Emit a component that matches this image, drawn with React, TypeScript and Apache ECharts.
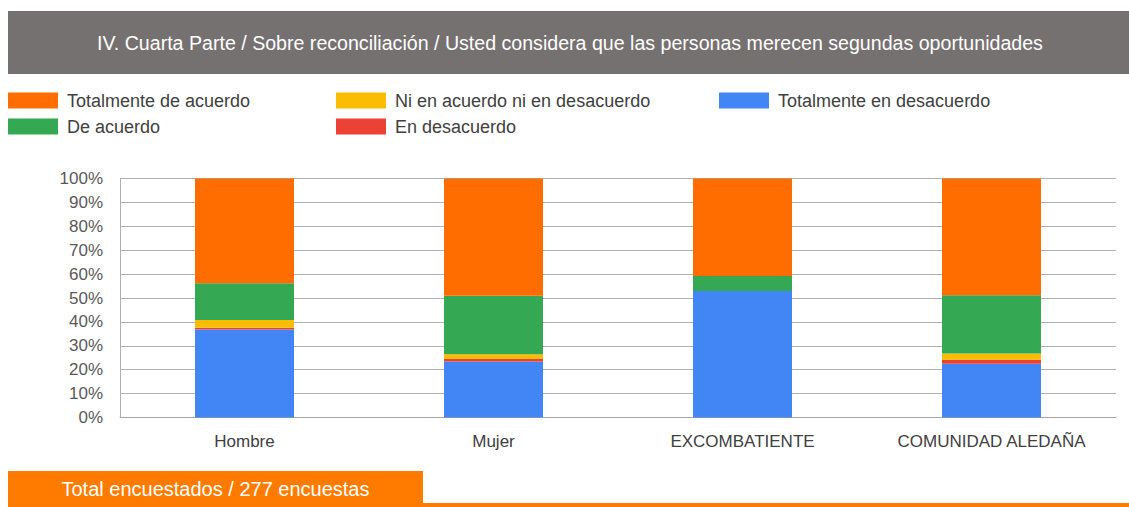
import React, { useEffect, useRef } from "react";
import * as echarts from "echarts";

const categories = ["Hombre", "Mujer", "EXCOMBATIENTE", "COMUNIDAD ALEDAÑA"];
const totalmenteEnDesacuerdo = [36.8, 23.4, 52.9, 22.5];
const enDesacuerdo = [0.8, 1.1, 0, 1.7];
const niNi = [3.2, 2.0, 0, 2.6];
const deAcuerdo = [15.4, 24.4, 6.3, 24.4];
const totalmenteDeAcuerdo = [43.8, 49.1, 40.8, 48.8];
const yTicks = [0, 10, 20, 30, 40, 50, 60, 70, 80, 90, 100];

const titleText =
  "IV. Cuarta Parte / Sobre reconciliación / Usted considera que las personas merecen segundas oportunidades";
const footerText = "Total encuestados / 277 encuestas";

const FONT = "'Liberation Sans', Arial, sans-serif";

export default function App() {
  const ref = useRef<HTMLDivElement>(null);
  useEffect(() => {
    if (!ref.current) return;
    const chart = echarts.init(ref.current, undefined, { renderer: "svg" });
    const legendText = { fontFamily: FONT, fontSize: 18, color: "#404040", padding: [0, 0, 0, 4] };
    const legendBase = {
      orient: "vertical" as const,
      itemWidth: 50,
      itemHeight: 16,
      itemGap: 8,
      padding: 0,
      icon: "rect",
      textStyle: legendText,
      selectedMode: false,
    };
    const mk = (name: string, data: number[], color: string) => ({
      name,
      type: "bar",
      stack: "total",
      data,
      barWidth: 99,
      itemStyle: { color },
    });
    chart.setOption({
      animation: false,
      textStyle: { fontFamily: FONT },
      graphic: [
        { type: "rect", shape: { x: 8, y: 11, width: 1121, height: 63 }, style: { fill: "#767171" } },
        {
          type: "text",
          x: 570,
          y: 43,
          style: {
            text: titleText,
            fill: "#ffffff",
            fontFamily: FONT,
            fontSize: 19.6,
            align: "center",
            verticalAlign: "middle",
          },
        },
        { type: "rect", shape: { x: 8, y: 471, width: 415, height: 36 }, style: { fill: "#ff7b00" } },
        { type: "rect", shape: { x: 8, y: 503, width: 1121, height: 4 }, style: { fill: "#ff7b00" } },
        {
          type: "text",
          x: 215.5,
          y: 489,
          style: {
            text: footerText,
            fill: "#ffffff",
            fontFamily: FONT,
            fontSize: 20,
            align: "center",
            verticalAlign: "middle",
          },
        },
      ],
      legend: [
        { ...legendBase, left: 8, top: 91.5, data: ["Totalmente de acuerdo", "De acuerdo"] },
        { ...legendBase, left: 336, top: 91.5, data: ["Ni en acuerdo ni en desacuerdo", "En desacuerdo"] },
        { ...legendBase, left: 719, top: 91.5, data: ["Totalmente en desacuerdo"] },
      ],
      grid: { left: 120, right: 13, top: 178.5, bottom: 89.5, containLabel: false },
      xAxis: {
        type: "category",
        data: categories,
        axisTick: { show: false },
        axisLine: { show: true, lineStyle: { color: "#a6a6a6", width: 1 } },
        axisLabel: { fontFamily: FONT, fontSize: 17, color: "#404040", margin: 15 },
      },
      yAxis: {
        type: "value",
        min: yTicks[0],
        max: yTicks[yTicks.length - 1],
        interval: 10,
        axisLine: { show: true, lineStyle: { color: "#b0b0b0", width: 1 } },
        axisTick: { show: false },
        splitLine: { show: true, lineStyle: { color: "#b0b0b0", width: 1 } },
        axisLabel: {
          fontFamily: FONT,
          fontSize: 17,
          color: "#595959",
          margin: 17,
          formatter: "{value}%",
        },
      },
      series: [
        mk("Totalmente en desacuerdo", totalmenteEnDesacuerdo, "#4285f4"),
        mk("En desacuerdo", enDesacuerdo, "#ea4335"),
        mk("Ni en acuerdo ni en desacuerdo", niNi, "#fbbc04"),
        mk("De acuerdo", deAcuerdo, "#34a853"),
        mk("Totalmente de acuerdo", totalmenteDeAcuerdo, "#ff6d01"),
      ],
    });
    return () => chart.dispose();
  }, []);
  return (
    <div
      ref={ref}
      style={{ position: "fixed", left: 0, top: 0, width: 1129, height: 507, background: "#ffffff" }}
    />
  );
}
